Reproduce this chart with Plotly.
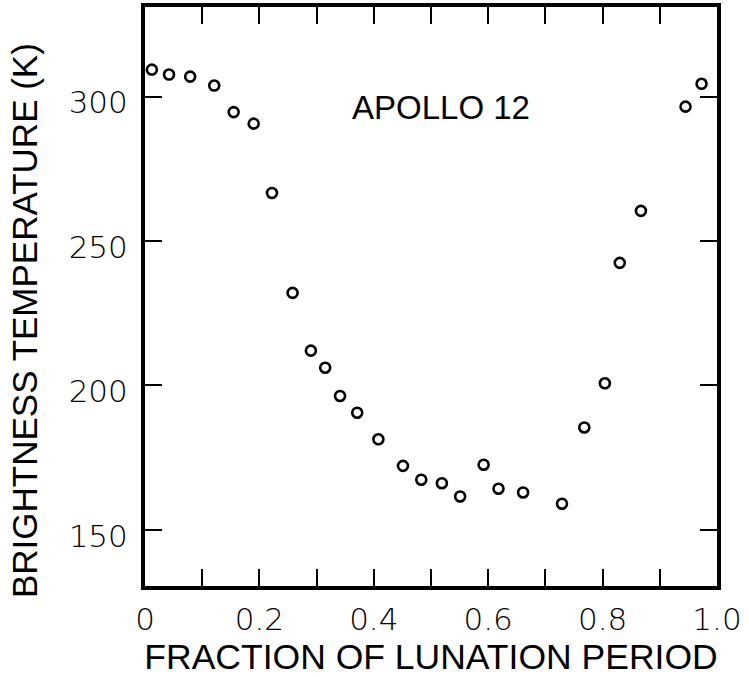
import plotly.graph_objects as go

# Fraction of lunation period (x) and brightness temperature in K (y)
fraction = [0.012, 0.042, 0.079, 0.121, 0.155, 0.190, 0.222, 0.258, 0.290,
            0.315, 0.341, 0.371, 0.408, 0.451, 0.483, 0.519, 0.551, 0.592,
            0.618, 0.661, 0.729, 0.768, 0.804, 0.830, 0.867, 0.945, 0.973]
temperature = [309.3, 307.6, 306.9, 303.8, 294.6, 290.6, 266.6, 232.0, 212.0,
               206.1, 196.3, 190.5, 181.3, 172.1, 167.3, 166.1, 161.5, 172.5,
               164.2, 162.9, 159.0, 185.4, 200.7, 242.4, 260.4, 296.5, 304.4]

x_tick_vals = [0, 0.1, 0.2, 0.3, 0.4, 0.5, 0.6, 0.7, 0.8, 0.9, 1.0]
x_tick_text = ["0", "", "0.2", "", "0.4", "", "0.6", "", "0.8", "", "1.0"]
y_tick_vals = [150, 200, 250, 300]
y_tick_text = ["150", "200", "250", "300"]

label_text = "APOLLO 12"
x_title = "FRACTION OF LUNATION PERIOD"
y_title = "BRIGHTNESS TEMPERATURE (K)"

FONT = "Liberation Sans"
TICK_FONT = "DejaVu Sans"

fig = go.Figure()
fig.add_trace(go.Scatter(
    x=fraction, y=temperature, mode="markers",
    marker=dict(symbol="circle-open", size=10, color="black",
                line=dict(width=2.6, color="black")),
    showlegend=False, hoverinfo="x+y",
))

axis_common = dict(
    showline=True, linecolor="black", linewidth=4, mirror="ticks",
    ticks="inside", ticklen=17, tickwidth=2.4, tickcolor="black",
    showgrid=False, zeroline=False,
    tickfont=dict(family=TICK_FONT, size=31, color="black", weight=300),
)

plot_l, plot_r, plot_t, plot_b = 145, 32, 7, 91
plot_w = 749 - plot_l - plot_r
plot_h = 677 - plot_t - plot_b

fig.update_layout(
    width=749, height=677,
    margin=dict(l=plot_l, r=plot_r, t=plot_t, b=plot_b, autoexpand=False),
    paper_bgcolor="white", plot_bgcolor="white",
    font=dict(family=FONT, color="black"),
    xaxis=dict(
        range=[0, 1.0], tickmode="array", tickvals=x_tick_vals,
        ticktext=x_tick_text, ticklabelstandoff=3,
        title=dict(text=x_title, font=dict(family=FONT, size=35.5, color="black"),
                   standoff=9),
        automargin=False,
        **axis_common,
    ),
    yaxis=dict(
        range=[130.5, 331], tickmode="array", tickvals=y_tick_vals,
        ticktext=y_tick_text, ticklabelstandoff=7, ticklabelshift=6,
        automargin=False,
        **axis_common,
    ),
    annotations=[
        dict(text=label_text, x=0.518, y=296.2, xref="x", yref="y",
             showarrow=False, font=dict(family=FONT, size=33, color="black"),
             xanchor="center", yanchor="middle"),
        dict(text=y_title, x=(24 - plot_l) / plot_w,
             y=1 - (321 - plot_t) / plot_h, xref="paper", yref="paper",
             showarrow=False, textangle=-90,
             font=dict(family=FONT, size=35, color="black"),
             xanchor="center", yanchor="middle"),
    ],
)

fig.write_html("out.html")
